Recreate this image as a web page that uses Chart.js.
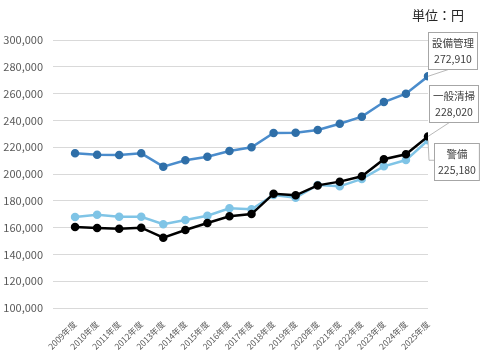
<!DOCTYPE html>
<html>
<head>
<meta charset="utf-8">
<script src="https://cdn.jsdelivr.net/npm/chart.js@4"></script>
<style>
  html, body { margin: 0; padding: 0; background: #fff; }
  #wrap { width: 485px; height: 364px; }
</style>
</head>
<body>
<div id="wrap"><canvas id="chart" width="485" height="364"></canvas></div>
<script>
  // 年度ラベル
  const years = ['2009年度', '2010年度', '2011年度', '2012年度', '2013年度', '2014年度', '2015年度', '2016年度',
    '2017年度', '2018年度', '2019年度', '2020年度', '2021年度', '2022年度', '2023年度', '2024年度', '2025年度'];

  // 設備管理
  const setsubi = [215400, 214400, 214100, 215400, 205500, 210200, 212900, 217200, 219900,
    230600, 230800, 232800, 237500, 242800, 253700, 259900, 272910];
  // 一般清掃
  const seisou = [160400, 159700, 159200, 159900, 152500, 158200, 163400, 168400, 170100,
    185300, 184100, 191500, 194300, 198300, 211000, 214700, 228020];
  // 警備
  const keibi = [167900, 169600, 168100, 168100, 162500, 165700, 168900, 174400, 173700,
    184300, 182300, 191800, 190800, 196300, 205700, 210400, 225180];

  const yTicks = { min: 100000, max: 300000, step: 20000 };
  const FONT = '"Noto Sans CJK JP", "Noto Sans", sans-serif';

  const toXY = arr => arr.map((v, i) => ({ x: i, y: v }));

  // 最終年度の値ラベル（吹き出し）
  const calloutStyle = [
    { dx: 0, dy: -44, lead: [[21, -7]] },
    { dx: 1, dy: -51, lead: [[23, -15]] },
    { dx: 6, dy: 3, lead: [[1, 20], [6, 20]] }
  ];

  const callouts = {
    id: 'callouts',
    afterDatasetsDraw(chart) {
      const ctx = chart.ctx;
      ctx.save();
      chart.data.datasets.forEach((ds, i) => {
        const meta = chart.getDatasetMeta(i);
        const pt = meta.data[meta.data.length - 1];
        const st = calloutStyle[i];
        const val = ds.data[ds.data.length - 1].y;
        const line1 = ds.label;
        const line2 = val.toLocaleString('en-US');
        ctx.font = '10.5px ' + FONT;
        const w = Math.max(ctx.measureText(line1).width, ctx.measureText(line2).width) + 7;
        const h = 37;
        const bx = Math.round(pt.x + st.dx) + 0.5;
        const by = Math.round(pt.y + st.dy) + 0.5;

        // 引き出し線
        ctx.strokeStyle = '#a6a6a6';
        ctx.lineWidth = 0.8;
        ctx.beginPath();
        ctx.moveTo(pt.x, pt.y);
        st.lead.forEach(p => ctx.lineTo(pt.x + p[0], pt.y + p[1]));
        ctx.stroke();

        ctx.fillStyle = '#fff';
        ctx.fillRect(bx, by, w, h);
        ctx.lineWidth = 1;
        ctx.strokeRect(bx, by, w, h);

        ctx.fillStyle = '#404040';
        ctx.textAlign = 'center';
        ctx.textBaseline = 'middle';
        ctx.fillText(line1, bx + w / 2, by + 11);
        ctx.fillText(line2, bx + w / 2, by + 27);
      });

      // 単位
      ctx.font = '13px ' + FONT;
      ctx.fillStyle = '#262626';
      ctx.textAlign = 'right';
      ctx.textBaseline = 'middle';
      ctx.fillText('単位：円', chart.chartArea.right + 36, 15);
      ctx.restore();
    }
  };

  new Chart(document.getElementById('chart'), {
    type: 'line',
    data: {
      datasets: [
        {
          label: '設備管理',
          data: toXY(setsubi),
          borderColor: '#4a8ccc',
          backgroundColor: '#2f6fa8',
          pointBackgroundColor: '#2f6fa8',
          pointBorderColor: '#2f6fa8',
          borderWidth: 2.5,
          pointRadius: 3,
          tension: 0
        },
        {
          label: '一般清掃',
          data: toXY(seisou),
          borderColor: '#000000',
          backgroundColor: '#000000',
          pointBackgroundColor: '#000000',
          pointBorderColor: '#000000',
          borderWidth: 2.5,
          pointRadius: 3,
          tension: 0
        },
        {
          label: '警備',
          data: toXY(keibi),
          borderColor: '#7fc4e6',
          backgroundColor: '#7fc4e6',
          pointBackgroundColor: '#7fc4e6',
          pointBorderColor: '#7fc4e6',
          borderWidth: 2.5,
          pointRadius: 3,
          tension: 0
        }
      ]
    },
    options: {
      responsive: false,
      animation: false,
      layout: { padding: { top: 40, right: 57, bottom: 4, left: 0 } },
      plugins: {
        legend: { display: false },
        tooltip: { enabled: false }
      },
      scales: {
        x: {
          type: 'linear',
          min: -1,
          max: years.length - 1,
          grid: { display: false },
          border: { display: false },
          afterBuildTicks(scale) {
            scale.ticks = years.map((_, i) => ({ value: i }));
          },
          afterFit(scale) { scale.height = 52; },
          ticks: {
            autoSkip: false,
            minRotation: 45,
            maxRotation: 45,
            padding: 3,
            color: '#595959',
            font: { size: 8.5, family: FONT },
            callback: v => years[v] || ''
          }
        },
        y: {
          min: yTicks.min,
          max: yTicks.max,
          grid: { color: '#d9d9d9', lineWidth: 1, drawTicks: false },
          border: { display: false },
          afterFit(scale) { scale.width = 53; },
          ticks: {
            stepSize: yTicks.step,
            padding: 10,
            color: '#595959',
            font: { size: 11, family: FONT },
            callback: v => v.toLocaleString('en-US')
          }
        }
      }
    },
    plugins: [callouts]
  });
</script>
</body>
</html>
